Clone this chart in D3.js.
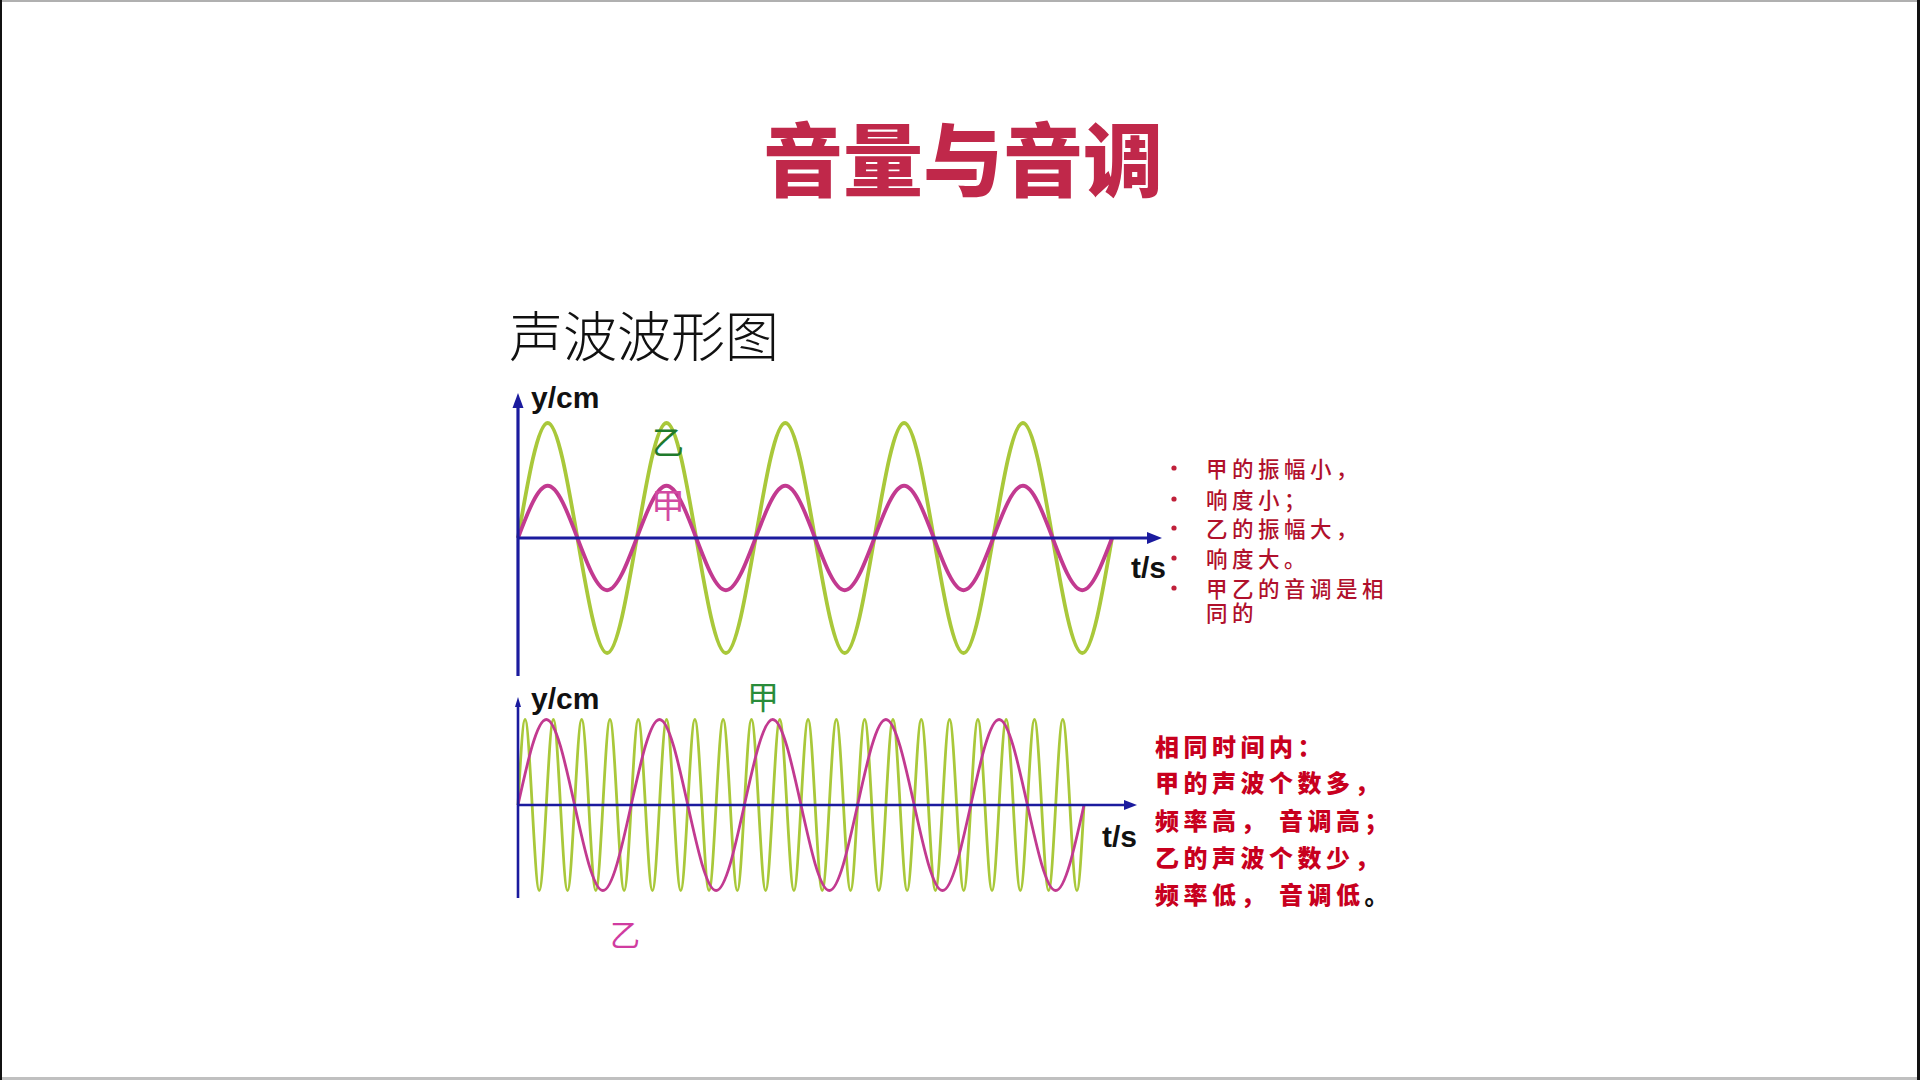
<!DOCTYPE html>
<html><head><meta charset="utf-8">
<script src="https://cdn.jsdelivr.net/npm/d3@7"></script>
<style>html,body{margin:0;padding:0;background:#fff;overflow:hidden}</style>
</head><body><svg id="chart" width="1920" height="1080"></svg>
<script>
// ---------- data ----------
const titleText = "音量与音调";
const subtitleText = "声波波形图";
const yAxisLabel = "y/cm";
const xAxisLabel = "t/s";

// Upper chart: same frequency, different amplitude. Samples every quarter period, 5 periods.
const topDuration = 5;
const topJia = [0,1,0,-1,0,1,0,-1,0,1,0,-1,0,1,0,-1,0,1,0,-1,0];
const topYi  = [0,2.2,0,-2.2,0,2.2,0,-2.2,0,2.2,0,-2.2,0,2.2,0,-2.2,0,2.2,0,-2.2,0];
const topYMax = 2.2;

// Lower chart: same amplitude, different frequency (乙 5 periods, 甲 20 periods in same time).
const botDuration = 5;
const botYi  = [0,1,0,-1,0,1,0,-1,0,1,0,-1,0,1,0,-1,0,1,0,-1,0];
const botJia = [0,1,0,-1,0,1,0,-1,0,1,0,-1,0,1,0,-1,0,1,0,-1,
                0,1,0,-1,0,1,0,-1,0,1,0,-1,0,1,0,-1,0,1,0,-1,
                0,1,0,-1,0,1,0,-1,0,1,0,-1,0,1,0,-1,0,1,0,-1,
                0,1,0,-1,0,1,0,-1,0,1,0,-1,0,1,0,-1,0,1,0,-1,0];
const botYMax = 1;

const topNotes = ["甲的振幅小，", "响度小；", "乙的振幅大，", "响度大。", "甲乙的音调是相"];
const topNoteWrap = "同的";
const bottomNotes = ["相同时间内：", "甲的声波个数多，", "频率高， 音调高；", "乙的声波个数少，", "频率低， 音调低"];
const bottomNoteEnd = "。";

// ---------- style ----------
const GREEN = "#a9c83a", MAGENTA = "#c23a90", AXIS = "#1b1b9e";
const CJK = "'Noto Sans CJK SC','Noto Sans CJK JP',sans-serif";
const LATIN = "'Liberation Sans',Arial,sans-serif";

const svg = d3.select("#chart");

// frame edges
svg.append("rect").attr("x",0).attr("y",0).attr("width",1920).attr("height",2).attr("fill","#b0b0b0");
svg.append("rect").attr("x",0).attr("y",1077).attr("width",1920).attr("height",3).attr("fill","#c0c0c0");
svg.append("rect").attr("x",0).attr("y",0).attr("width",2).attr("height",1080).attr("fill","#111");
svg.append("rect").attr("x",1917).attr("y",0).attr("width",3).attr("height",1080).attr("fill","#111");

// title
svg.append("text").attr("x",963).attr("y",190).attr("text-anchor","middle")
  .attr("font-family",CJK).attr("font-weight",900).attr("font-size",80)
  .attr("fill","#c0284a").text(titleText);

svg.append("text").attr("x",509).attr("y",357)
  .attr("font-family",CJK).attr("font-weight",300).attr("font-size",54)
  .attr("fill","#111").text(subtitleText);

function drawPanel(cfg){
  const g = svg.append("g");
  const x = d3.scaleLinear().domain([0,cfg.duration]).range([cfg.x0, cfg.x1]);
  const y = d3.scaleLinear().domain([-cfg.yMax, cfg.yMax]).range([cfg.cy + cfg.amp, cfg.cy - cfg.amp]);
  cfg.series.forEach(s => {
    const n = s.values.length;
    const line = d3.line()
      .x((d,i) => x(i * cfg.duration / (n-1)))
      .y(d => y(d))
      .curve(d3.curveNatural);
    g.append("path").attr("d", line(s.values)).attr("fill","none")
      .attr("stroke", s.color).attr("stroke-width", cfg.strokeW).attr("stroke-linejoin","round");
  });
  // axes
  const y0 = y(0);
  g.append("line").attr("x1",x(0)).attr("x2",cfg.xAxisEnd - cfg.arrowX[1]+2).attr("y1",y0).attr("y2",y0)
    .attr("stroke",AXIS).attr("stroke-width",cfg.axisW);
  g.append("line").attr("x1",x(0)).attr("x2",x(0)).attr("y1",cfg.yAxisBottom).attr("y2",cfg.yAxisTop + cfg.arrowY[1]-2)
    .attr("stroke",AXIS).attr("stroke-width",cfg.axisW);
  // arrowheads
  const ax = cfg.xAxisEnd, aw = cfg.arrowX[0], al = cfg.arrowX[1];
  g.append("path").attr("d",`M${ax},${y0} L${ax-al},${y0-aw/2} L${ax-al},${y0+aw/2} Z`).attr("fill",AXIS);
  const yx = x(0), yt = cfg.yAxisTop, bw = cfg.arrowY[0], bl = cfg.arrowY[1];
  g.append("path").attr("d",`M${yx},${yt} L${yx-bw/2},${yt+bl} L${yx+bw/2},${yt+bl} Z`).attr("fill",AXIS);
  // axis labels
  g.append("text").attr("x",cfg.yLabel[0]).attr("y",cfg.yLabel[1]).attr("font-family",LATIN)
    .attr("font-weight","bold").attr("font-size",30).attr("fill","#111").text(yAxisLabel);
  g.append("text").attr("x",cfg.xLabel[0]).attr("y",cfg.xLabel[1]).attr("font-family",LATIN)
    .attr("font-weight","bold").attr("font-size",30).attr("fill","#111").text(xAxisLabel);
  // series name labels
  cfg.names.forEach(nm => {
    g.append("text").attr("x",nm.x).attr("y",nm.y).attr("font-family",CJK)
      .attr("font-size",nm.size).attr("fill",nm.color).text(nm.text);
  });
}

drawPanel({
  duration: topDuration, yMax: topYMax, x0: 518, x1: 1112, cy: 538, amp: 115,
  strokeW: 3.8, axisW: 3.2, xAxisEnd: 1162, yAxisTop: 393, yAxisBottom: 676,
  arrowX: [12,15], arrowY: [11,15],
  series: [{values: topYi, color: GREEN}, {values: topJia, color: MAGENTA}],
  yLabel: [531, 408], xLabel: [1131, 578],
  names: [{text:"乙", x:652, y:454, size:32, color:"#1f7a2c"},
          {text:"甲", x:651, y:518, size:34, color:"#d24aa2"}]
});

drawPanel({
  duration: botDuration, yMax: botYMax, x0: 518, x1: 1084, cy: 805, amp: 85.5,
  strokeW: 2.8, axisW: 2.6, xAxisEnd: 1137, yAxisTop: 697, yAxisBottom: 898,
  arrowX: [10,13], arrowY: [6,10],
  series: [{values: botJia, color: GREEN}, {values: botYi, color: MAGENTA}],
  yLabel: [531, 709], xLabel: [1102, 847],
  names: [{text:"甲", x:747, y:709, size:32, color:"#2a8c3a"},
          {text:"乙", x:610, y:946, size:30, color:"#d03ca0"}]
});

// upper notes with bullets (last bullet wraps onto a second line inside one text)
const topBase = [477, 508, 537, 567, 597];
topNotes.forEach((t,i) => {
  svg.append("circle").attr("cx",1174).attr("cy",topBase[i]-9).attr("r",2.6).attr("fill","#c0203a");
  const tx = svg.append("text").attr("x",1206).attr("y",topBase[i]).attr("font-family",CJK).attr("font-weight",500)
    .attr("font-size",21.5).attr("letter-spacing",4.5).attr("fill","#b0102c");
  tx.append("tspan").text(t);
  if (i === topNotes.length-1) tx.append("tspan").attr("x",1206).attr("dy",24).text(topNoteWrap);
});

// lower notes
const botBase = [756, 792, 830, 867, 904];
bottomNotes.forEach((t,i) => {
  const tx = svg.append("text").attr("x",1155).attr("y",botBase[i]).attr("font-family",CJK)
    .attr("font-weight",900).attr("font-size",24).attr("letter-spacing",4.5).attr("fill","#c8001e");
  tx.append("tspan").text(t);
  if (i === bottomNotes.length-1) tx.append("tspan").attr("fill","#111").text(bottomNoteEnd);
});
</script>
</body></html>
